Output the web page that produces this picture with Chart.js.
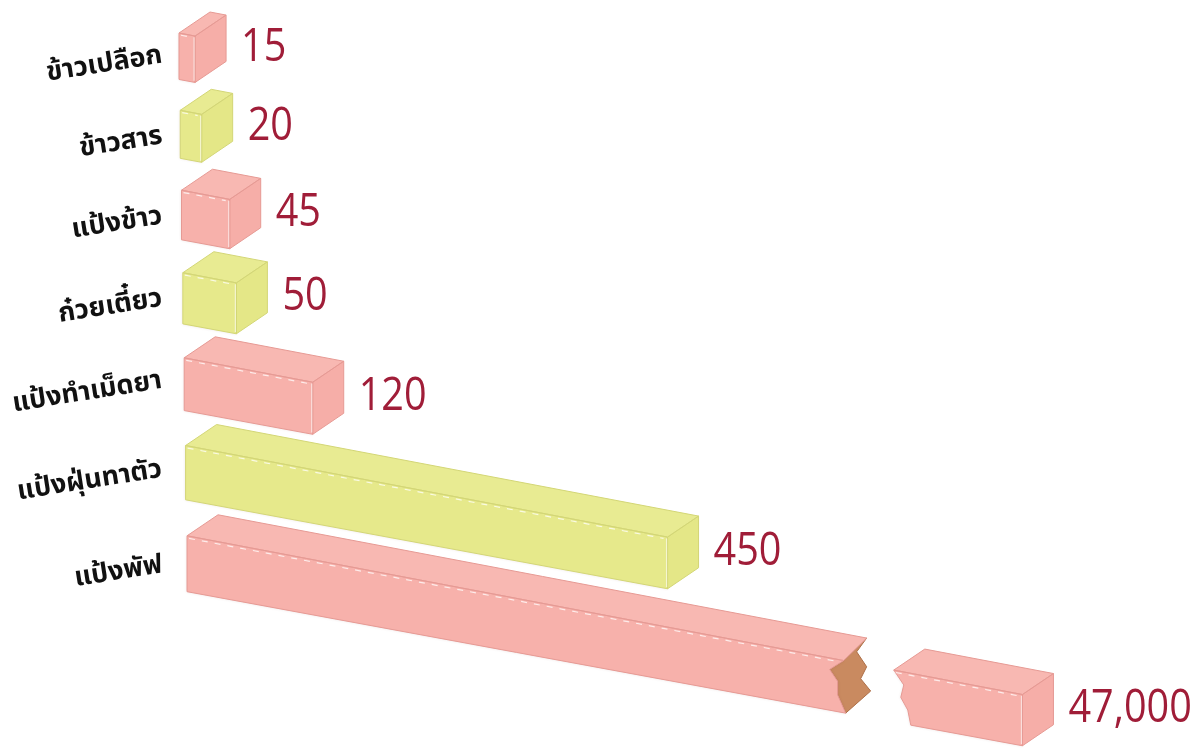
<!DOCTYPE html>
<html lang="th">
<head>
  <meta charset="UTF-8" />
  <title>ปริมาณการใช้แป้งข้าว</title>
  <script src="https://cdn.jsdelivr.net/npm/chart.js"></script>
  <style>
    html, body {
      margin: 0;
      background: #ffffff;
    }
    .wrap {
      width: 1193px;
      height: 751px;
    }
  </style>
</head>
<body>
  <div class="wrap">
    <canvas id="riceChart" width="1193" height="751"></canvas>
  </div>

  <script>
    const categories = ['ข้าวเปลือก', 'ข้าวสาร', 'แป้งข้าว', 'ก๋วยเตี๋ยว', 'แป้งทำเม็ดยา', 'แป้งฝุ่นทาตัว', 'แป้งพัฟ'];
    const values = [15, 20, 45, 50, 120, 450, 47000];
    const barColors = ['#f7b1ab', '#e6e98b', '#f7b1ab', '#e6e98b', '#f7b1ab', '#e6e98b', '#f7b1ab'];
    const valueAxisMax = 780; // bars longer than this get drawn broken

    // look of the tilted boxes
    const look = {
      bend: 0.000225,   // rows spread out towards the viewer
      shear: 0.016,
      slope: 0.19,      // bars run down to the right
      shrink: 0.0001,
      depthX: 31,
      depthY: -21,
      breakAt: 0.786,
      resumeAt: 0.846
    };

    const faceShades = {
      '#f7b1ab': { top: '#f8b8b2', side: '#f6aea8', line: '#e69a94' },
      '#e6e98b': { top: '#e8eb92', side: '#e4e787', line: '#d3d676' }
    };

    function polygon(ctx, pts) {
      ctx.beginPath();
      pts.forEach((p, j) => j ? ctx.lineTo(p[0], p[1]) : ctx.moveTo(p[0], p[1]));
      ctx.closePath();
    }

    function drawPiece(ctx, pt, u0, u1, color, leftCut, rightCut, backShift) {
      const shades = faceShades[color];
      const lc = leftCut || [[0, 0], [0, 1]];
      const rc = rightCut || [[0, 0], [0, 1]];
      const front = [];
      rc.forEach(([du, f]) => front.push(pt(u1 + du, f, 0)));
      lc.slice().reverse().forEach(([du, f]) => front.push(pt(u0 + du, f, 0)));

      const top = [pt(u0 + lc[0][0], 0, 0), pt(u0 + lc[0][0], 0, 1),
                   pt(u1 + rc[0][0] + (backShift || 0), 0, 1), pt(u1 + rc[0][0], 0, 0)];
      const side = [pt(u1, 0, 0), pt(u1, 0, 1), pt(u1, 1, 1), pt(u1, 1, 0)];

      ctx.save();
      ctx.lineJoin = 'round';
      ctx.shadowColor = 'rgba(120, 60, 60, 0.18)';
      ctx.shadowBlur = 3;
      ctx.fillStyle = color;
      polygon(ctx, front);
      ctx.fill();
      ctx.shadowBlur = 0;
      ctx.fillStyle = shades.top;
      polygon(ctx, top);
      ctx.fill();
      if (!rightCut) {
        ctx.fillStyle = shades.side;
        polygon(ctx, side);
        ctx.fill();
      }

      // outline
      ctx.strokeStyle = shades.line;
      ctx.lineWidth = 1;
      polygon(ctx, front);
      ctx.stroke();
      polygon(ctx, top);
      ctx.stroke();
      if (!rightCut) {
        polygon(ctx, side);
        ctx.stroke();
      }

      // light inner edges
      ctx.strokeStyle = 'rgba(255, 255, 255, 0.75)';
      ctx.lineWidth = 1.2;
      ctx.setLineDash([6, 7]);
      const a = pt(u0 + lc[0][0] + 2, 0.04, 0), b = pt(u1 + rc[0][0] - 4, 0.04, 0);
      ctx.beginPath();
      ctx.moveTo(a[0], a[1]);
      ctx.lineTo(b[0], b[1]);
      ctx.stroke();
      ctx.setLineDash([]);
      if (!rightCut) {
        const c = pt(u1 - 1, 0.03, 0), d = pt(u1 - 1, 0.97, 0);
        ctx.strokeStyle = 'rgba(255, 255, 255, 0.6)';
        ctx.beginPath();
        ctx.moveTo(c[0], c[1]);
        ctx.lineTo(d[0], d[1]);
        ctx.stroke();
      }
      ctx.restore();
    }

    const prismPlugin = {
      id: 'prism3d',
      afterDatasetsDraw(chart) {
        const ctx = chart.ctx;
        const area = chart.chartArea;
        const meta = chart.getDatasetMeta(0);
        const L = area.left;
        const c0 = meta.data[0].y - meta.data[0].height / 2;
        const warp = v => v + look.bend * (v - c0) * (v - c0);

        meta.data.forEach((el, i) => {
          const wTop = warp(el.y - el.height / 2);
          const wBot = warp(el.y + el.height / 2);
          const rowShift = look.shear * (wTop - c0);
          const pt = (u, f, d) => {
            const du = u - L;
            const h = (wBot - wTop) * (1 - look.shrink * du);
            return [u + rowShift + d * look.depthX, wTop + f * h + look.slope * du + d * look.depthY];
          };

          const color = barColors[i];
          const broken = values[i] > valueAxisMax;
          const uEnd = broken ? area.right : el.x;

          if (broken) {
            const width = area.right - L;
            const b = L + look.breakAt * width;
            const r = L + look.resumeAt * width;
            const frontCut = [[0, 0], [-14, 0.22], [-6, 0.42], [-6, 0.68], [2, 1]];
            const backCut = [[-8, 0], [-18, 0.3], [-8, 0.55], [-14, 0.8], [-4, 1]];

            // broken face
            const crack = frontCut.map(([du, f]) => pt(b + du, f, 0))
              .concat(backCut.slice().reverse().map(([du, f]) => pt(b + du, f, 1)));
            ctx.save();
            ctx.fillStyle = '#c98a60';
            ctx.strokeStyle = '#ad6f48';
            ctx.lineWidth = 1;
            polygon(ctx, crack);
            ctx.fill();
            ctx.stroke();
            ctx.restore();

            drawPiece(ctx, pt, L, b, color, null, frontCut, -8);
            drawPiece(ctx, pt, r, uEnd, color, [[0, 0], [10, 0.25], [7, 0.5], [14, 0.72], [17, 1]], null);
          } else {
            drawPiece(ctx, pt, L, uEnd, color, null, null);
          }

          // value label beside the end of the bar
          const s1 = pt(uEnd, 0.5, 0), s2 = pt(uEnd, 0.5, 1);
          ctx.save();
          ctx.fillStyle = '#a01d38';
          ctx.font = '46px "Open Sans", sans-serif';
          ctx.textAlign = 'left';
          ctx.textBaseline = 'middle';
          ctx.translate(s2[0] + 15, (s1[1] + s2[1]) / 2 - 1);
          ctx.scale(0.86, 1);
          ctx.fillText(values[i].toLocaleString('en-US'), 0, 0);
          ctx.restore();

          // category label, tilted with the chart
          const m = pt(L, 0.5, 0);
          ctx.save();
          ctx.fillStyle = '#111111';
          ctx.font = 'bold 27px "Noto Sans Thai", "Noto Sans Thai UI", Tahoma, "Noto Sans", sans-serif';
          const w = ctx.measureText(categories[i]).width;
          ctx.translate(L - 16 - w / 2, m[1] + 10);
          ctx.rotate(-9 * Math.PI / 180);
          ctx.textAlign = 'center';
          ctx.textBaseline = 'middle';
          ctx.fillText(categories[i], 0, 0);
          ctx.restore();
        });
      }
    };

    const ctx = document.getElementById('riceChart').getContext('2d');
    new Chart(ctx, {
      type: 'bar',
      data: {
        labels: categories,
        datasets: [{
          data: values,
          backgroundColor: 'rgba(0, 0, 0, 0)',
          borderWidth: 0,
          categoryPercentage: 1,
          barPercentage: 0.605
        }]
      },
      options: {
        indexAxis: 'y',
        responsive: false,
        animation: false,
        layout: {
          padding: { left: 179, right: 178.6, top: 18, bottom: 201 }
        },
        plugins: {
          legend: { display: false },
          tooltip: { enabled: false }
        },
        scales: {
          x: { display: false, min: 0, max: valueAxisMax },
          y: { display: false }
        }
      },
      plugins: [prismPlugin]
    });
  </script>
</body>
</html>
